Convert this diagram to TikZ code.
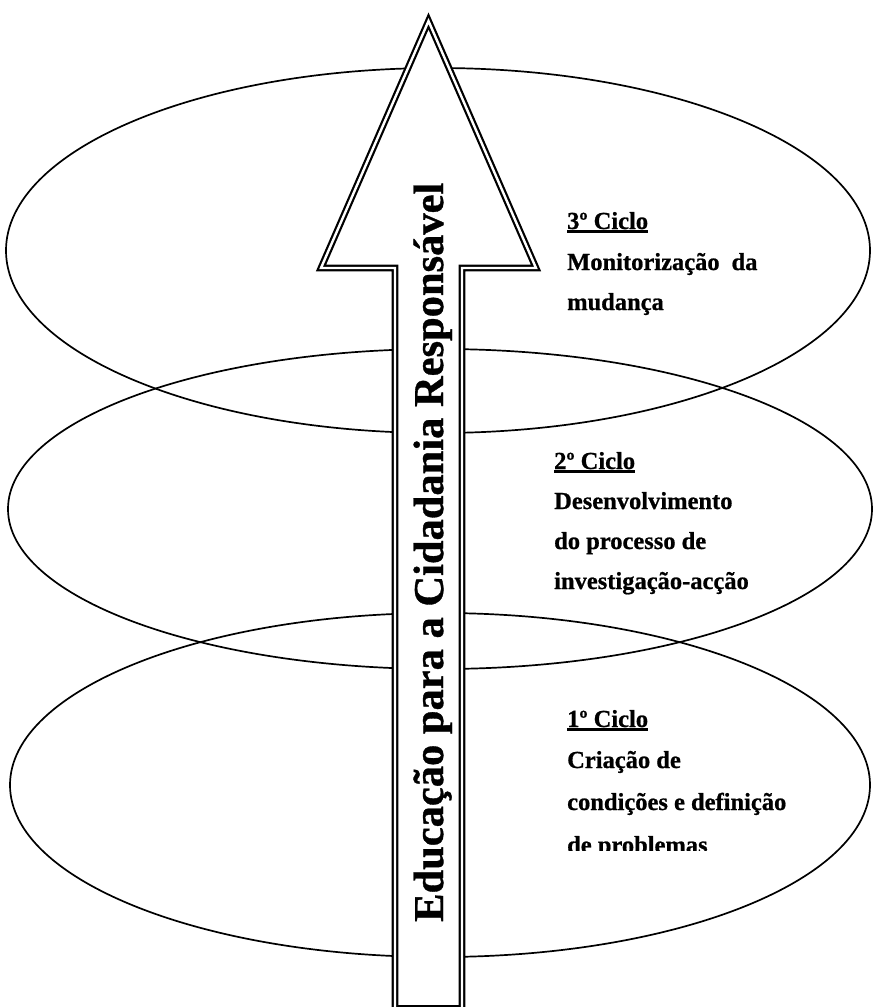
\documentclass[tikz,border=0pt]{standalone}
\usepackage{fontspec}
\setmainfont{Liberation Serif}[BoldFeatures={FakeBold=0.8}]
\usetikzlibrary{shapes.geometric}
\newcommand{\ulc}[1]{\setbox0\hbox{#1}\rlap{\rule[-4pt]{\wd0}{2.6pt}}\box0}
\tikzset{
  cycleellipse/.style={draw=black, line width=1.7pt, ellipse, inner sep=0pt},
  bigarrow/.style={draw=black, fill=white, double=white, line width=2.2pt, double distance=2.4pt, line join=miter},
  lbl/.style={anchor=base west, inner sep=0pt, font=\bfseries\fontsize{24.5}{24.5}\selectfont},
  vtitle/.style={rotate=90, anchor=base west, inner sep=0pt, font=\bfseries\fontsize{42.5}{42.5}\selectfont}
}
\begin{document}
\begin{tikzpicture}[x=1pt, y=-1pt]
\useasboundingbox (0,0) rectangle (880,1007);
% ellipses (cycles)
\node[cycleellipse, minimum width=864pt, minimum height=365pt] (c3) at (438,250.5) {};
\node[cycleellipse, minimum width=864pt, minimum height=320pt] (c2) at (440,509) {};
\node[cycleellipse, minimum width=860pt, minimum height=344pt] (c1) at (440,785) {};
% arrow
\draw[bigarrow] (395,1008.5) -- (395,268) -- (321,268) -- (428.5,21) -- (536,268) -- (462,268) -- (462,1008.5) -- cycle;
\node[vtitle] (title) at (443,922) {Educação para a Cidadania Responsável};
% 3rd cycle
\node[lbl] (t3a) at (567,229) {\ulc{3º Ciclo}};
\node[lbl] (t3b) at (567,270) {Monitorização\hspace{12pt}da};
\node[lbl] (t3c) at (567,310) {mudança};
% 2nd cycle
\node[lbl] (t2a) at (554,469) {\ulc{2º Ciclo}};
\node[lbl] (t2b) at (554,509) {Desenvolvimento};
\node[lbl] (t2c) at (554,549) {do processo de};
\node[lbl] (t2d) at (554,589) {investigação-acção};
% 1st cycle
\node[lbl] (t1a) at (567,727) {\ulc{1º Ciclo}};
\node[lbl] (t1b) at (567,768) {Criação de};
\node[lbl] (t1c) at (567,810) {condições e definição};
\begin{scope}
\clip (540,820) rectangle (800,850);
\node[lbl] (t1d) at (567,853) {de problemas};
\end{scope}
\end{tikzpicture}
\end{document}
